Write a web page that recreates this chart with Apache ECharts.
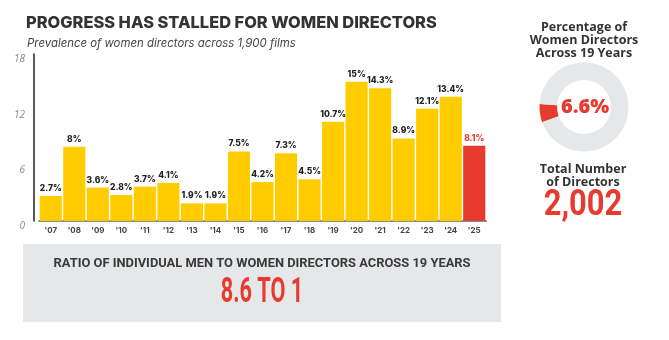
<!DOCTYPE html>
<html>
<head>
<meta charset="utf-8">
<script src="https://cdn.jsdelivr.net/npm/echarts@6/dist/echarts.min.js"></script>
<style>
  html, body { margin: 0; padding: 0; background: #fff; }
  #chart { width: 669px; height: 340px; }
</style>
</head>
<body>
<div id="chart"></div>
<script>
// Share of women directors per year, top films
const years = ["'07", "'08", "'09", "'10", "'11", "'12", "'13", "'14", "'15", "'16",
               "'17", "'18", "'19", "'20", "'21", "'22", "'23", "'24", "'25"];
const womenPct = [2.7, 8, 3.6, 2.8, 3.7, 4.1, 1.9, 1.9, 7.5, 4.2,
                  7.3, 4.5, 10.7, 15, 14.3, 8.9, 12.1, 13.4, 8.1];
const yTicks = [0, 6, 12, 18];

// Summary figures
const overallWomenPct = 6.6;
const totalDirectors = '2,002';
const ratioText = '8.6 TO 1';

const YELLOW = '#FFCC00';
const RED = '#E63B2E';
const DARK = '#333333';
const GREY_BG = '#E6E7E9';

function draw() {
  const lastIdx = years.length - 1;
  const barData = womenPct.map((v, i) => ({
    value: v,
    itemStyle: { color: i === lastIdx ? RED : YELLOW },
    label: { color: i === lastIdx ? RED : '#222' }
  }));

  const chart = echarts.init(document.getElementById('chart'), null, { renderer: 'canvas' });

  chart.setOption({
    animation: false,
    backgroundColor: '#fff',
    title: [
      {
        text: 'PROGRESS HAS STALLED FOR WOMEN DIRECTORS',
        left: 21, top: 10,
        textStyle: { fontFamily: 'Inter', fontWeight: 800, fontSize: 16.4, color: DARK }
      },
      {
        text: 'Prevalence of women directors across 1,900 films',
        left: 22, top: 33,
        textStyle: { fontFamily: 'Inter', fontStyle: 'italic', fontWeight: 'normal', fontSize: 11.4, color: '#444' }
      }
    ],
    grid: { left: 39, right: 183, top: 54, bottom: 119, containLabel: false },
    xAxis: {
      type: 'category',
      data: years,
      offset: 2,
      axisLine: { show: true, lineStyle: { color: '#8a8a8a', width: 2 } },
      axisTick: { show: false },
      axisLabel: { fontFamily: 'Inter', fontWeight: 700, fontSize: 8, color: '#444', margin: 4 }
    },
    yAxis: {
      type: 'value',
      min: yTicks[0], max: yTicks[yTicks.length - 1], interval: 6,
      offset: 5,
      axisLine: { show: true, lineStyle: { color: '#222', width: 1.5 } },
      axisTick: { show: false },
      splitLine: { show: false },
      axisLabel: {
        fontFamily: 'Open Sans', fontStyle: 'italic', fontSize: 10, color: '#8a8a8a',
        margin: 9, verticalAlign: 'top'
      }
    },
    series: [
      {
        type: 'bar',
        data: barData,
        barCategoryGap: '6%',
        label: {
          show: true, position: 'top', distance: 3,
          formatter: p => p.value + '%',
          fontFamily: 'Inter', fontWeight: 800, fontSize: 8.5
        }
      },
      {
        type: 'pie',
        center: [584, 107],
        radius: [27, 44.5],
        startAngle: 200,
        clockwise: true,
        silent: true,
        label: { show: false },
        labelLine: { show: false },
        data: [
          { value: overallWomenPct, itemStyle: { color: RED } },
          { value: 100 - overallWomenPct, itemStyle: { color: GREY_BG } }
        ]
      }
    ],
    graphic: [
      {
        type: 'text',
        style: {
          x: 584, y: 40, text: 'Percentage of\nWomen Directors\nAcross 19 Years',
          align: 'center', verticalAlign: 'middle', lineHeight: 13,
          fontFamily: 'Open Sans', fontWeight: 700, fontSize: 12.5, fill: DARK
        }
      },
      {
        type: 'text',
        style: {
          x: 585, y: 107, text: overallWomenPct + '%',
          align: 'center', verticalAlign: 'middle',
          fontFamily: 'Open Sans', fontWeight: 800, fontSize: 20, fill: RED
        }
      },
      {
        type: 'text',
        style: {
          x: 583, y: 176, text: 'Total Number\nof Directors',
          align: 'center', verticalAlign: 'middle', lineHeight: 12.5,
          fontFamily: 'Open Sans', fontWeight: 700, fontSize: 12.5, fill: DARK
        }
      },
      {
        type: 'text',
        x: 583, y: 206, scaleX: 0.86,
        style: {
          x: 0, y: 0, text: totalDirectors,
          align: 'center', verticalAlign: 'middle',
          fontFamily: 'Roboto', fontWeight: 'bold', fontSize: 36, fill: RED
        }
      },
      {
        type: 'rect', z: -10,
        shape: { x: 23, y: 244, width: 478, height: 78 },
        style: { fill: GREY_BG }
      },
      {
        type: 'text',
        x: 262, y: 264,
        style: {
          x: 0, y: 0, text: 'RATIO OF INDIVIDUAL MEN TO WOMEN DIRECTORS ACROSS 19 YEARS',
          align: 'center', verticalAlign: 'middle',
          fontFamily: 'Roboto', fontWeight: 'bold', fontSize: 12.9, fill: '#3a3a3a'
        }
      },
      {
        type: 'text',
        x: 262, y: 293, scaleX: 0.62,
        style: {
          x: 0, y: 0, text: ratioText,
          align: 'center', verticalAlign: 'middle',
          fontFamily: 'Roboto', fontWeight: 'bold', fontSize: 35, fill: RED
        }
      }
    ]
  });
}

// Make sure the local fonts are ready before text gets measured
const fontsNeeded = [
  '800 16px Inter', '700 8px Inter', 'italic 400 12px Inter', 'italic 400 12px "Open Sans"',
  '700 12px "Open Sans"', '800 20px "Open Sans"', '700 12px Roboto'
];
Promise.all(fontsNeeded.map(f => document.fonts.load(f).catch(() => null)))
  .then(draw, draw);
</script>
</body>
</html>
